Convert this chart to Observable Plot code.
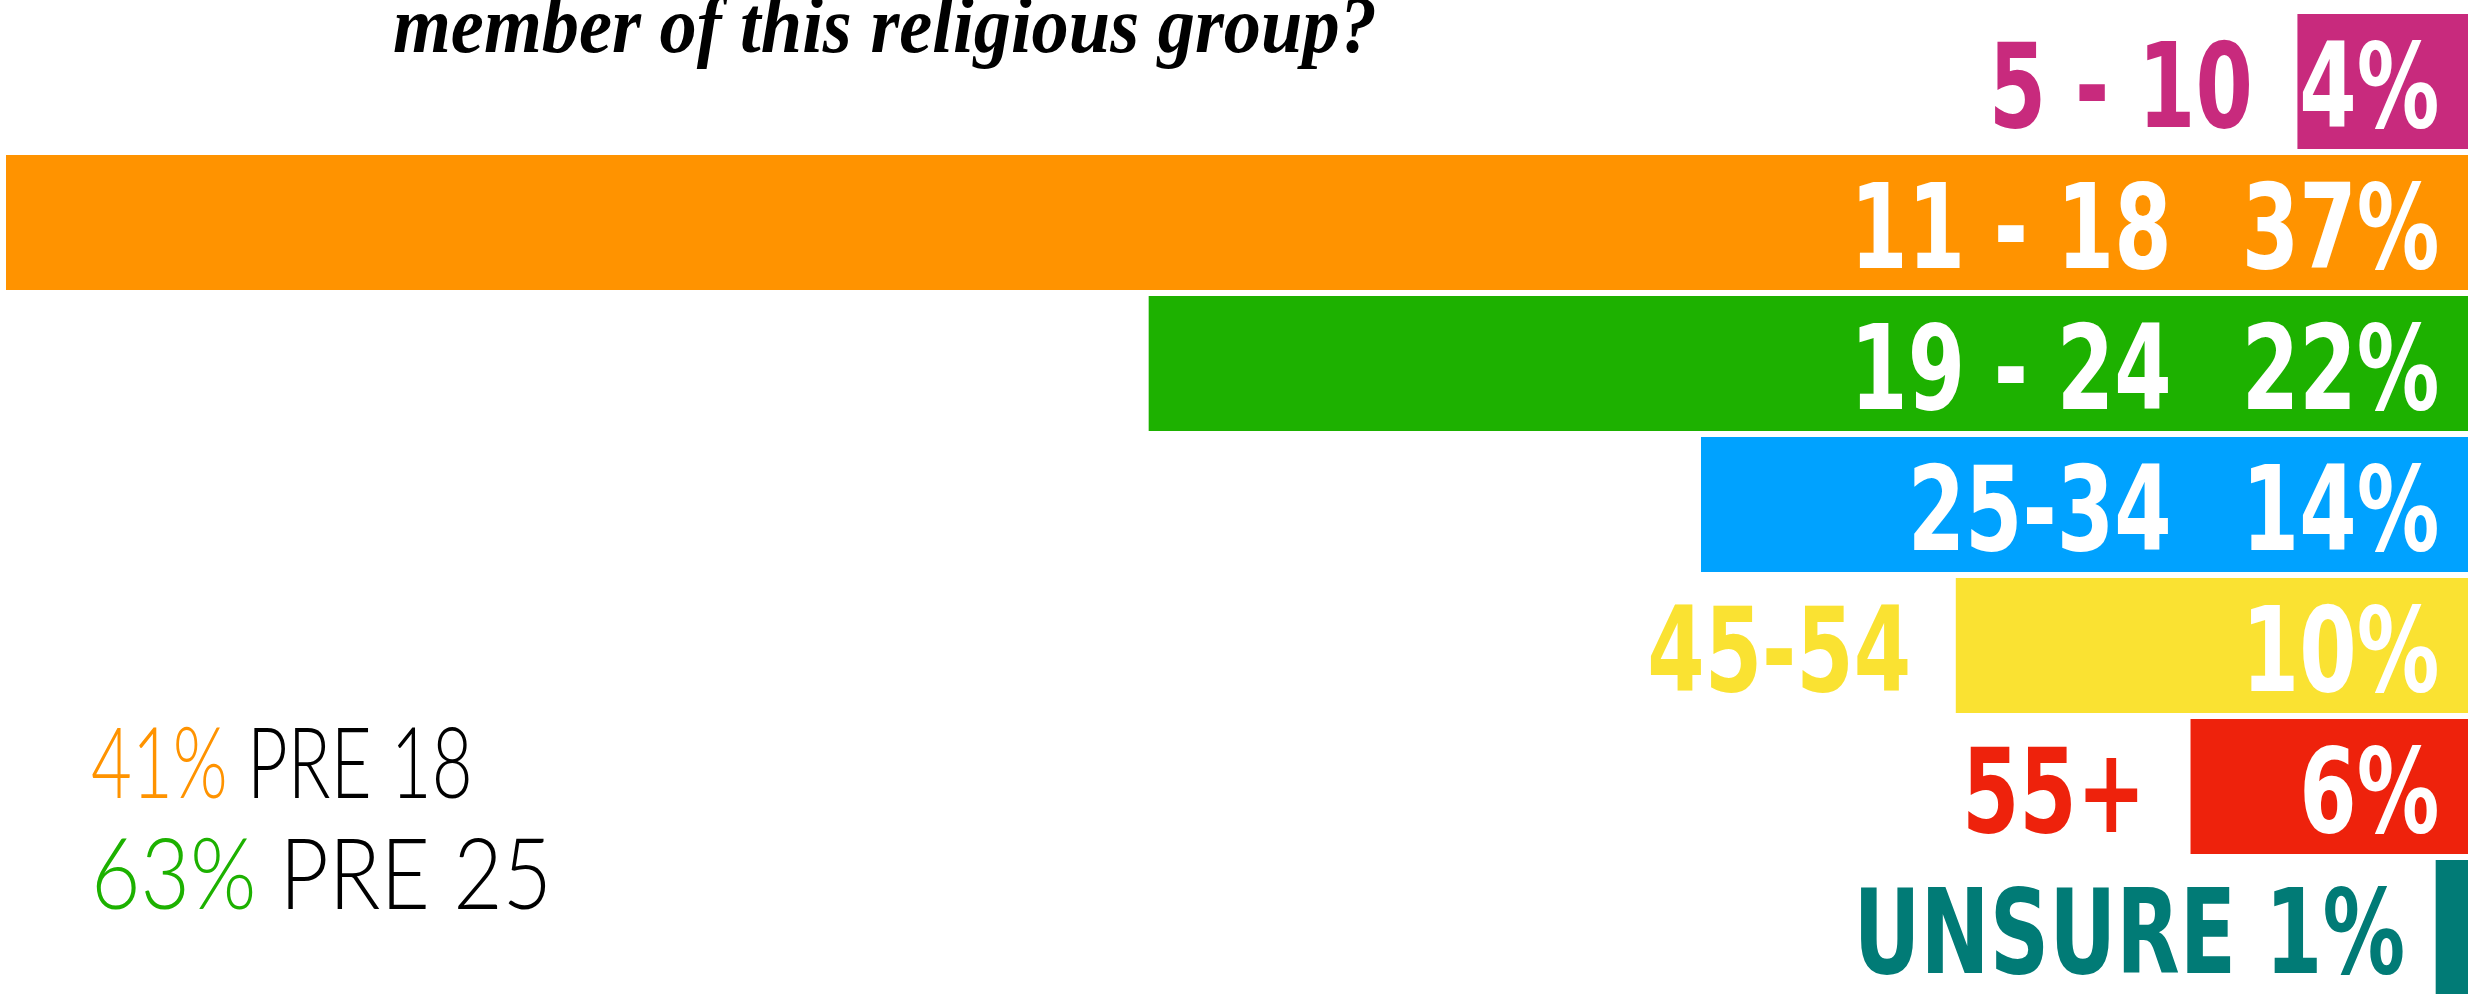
<!DOCTYPE html>
<html>
<head>
<meta charset="utf-8">
<script src="https://cdn.jsdelivr.net/npm/d3@7"></script>
<script src="https://cdn.jsdelivr.net/npm/@observablehq/plot@0.6"></script>
<style>
  html, body { margin: 0; padding: 0; background: #fff; }
  #wrap { position: relative; width: 2468px; height: 994px; overflow: hidden; background: #fff; }
  #chart { position: absolute; left: 0; top: 0; }
  #title {
    position: absolute; left: 393px; top: -15px; white-space: nowrap;
    font-family: "Liberation Serif", "DejaVu Serif", serif; font-style: italic; font-weight: 700;
    font-size: 80px; line-height: 80px; color: #000;
    transform-origin: 0 0; transform: scaleX(0.93);
  }
  .note {
    position: absolute; left: 91px; white-space: nowrap;
    font-family: "Lato", "Open Sans", sans-serif; font-weight: 300;
    font-size: 98px; line-height: 111px; color: #000;
    transform-origin: 0 0;
  }
</style>
</head>
<body>
<div id="wrap">
  <div id="chart"></div>
  <div id="title"></div>
  <div id="notes"></div>
</div>
<script>
// ---- data ----
const categories = ["5 - 10", "11 - 18", "19 - 24", "25-34", "45-54", "55+", "UNSURE"];
const shares = [4, 37, 22, 14, 10, 6, 1];
const palette = ["#C82A7D", "#FF9300", "#1DB100", "#00A2FF", "#FAE232", "#EE220C", "#017B76"];
const summaryValues = ["41%", "63%"];
const summaryLabels = ["PRE 18", "PRE 25"];
const summaryColors = ["#FF9300", "#1DB100"];
const titleText = "member of this religious group?";

// ---- derived table ----
const rows = categories.map((c, i) => ({cat: c, value: shares[i], pct: shares[i] + "%"}));
const inside = rows.filter(d => d.value >= 14);
const pctInside = rows.filter(d => d.value >= 4 && d.value < 14);
const outside = rows.filter(d => d.value < 4);

const labelFont = {
  fontFamily: "'DejaVu Sans', sans-serif",
  fontWeight: 700,
  fontSize: 118,
  dy: 7
};
const gap = "\u00A0\u2002";

const chart = Plot.plot({
  width: 2468,
  height: 994,
  marginTop: 11,
  marginBottom: -4,
  marginLeft: 6,
  marginRight: 0,
  x: {type: "pow", exponent: 1.2, domain: [0, 37], reverse: true, axis: null},
  y: {type: "band", domain: categories, paddingInner: 0.04, paddingOuter: 0, axis: null},
  color: {domain: categories, range: palette},
  style: {background: "white"},
  marks: [
    Plot.barX(rows, {x: "value", y: "cat", fill: "cat"}),
    Plot.text(inside, {y: "cat", text: d => d.cat + gap + d.pct, frameAnchor: "right", textAnchor: "end", dx: -29, fill: "white", ...labelFont}),
    Plot.text(pctInside, {y: "cat", text: "pct", frameAnchor: "right", textAnchor: "end", dx: -29, fill: "white", ...labelFont}),
    Plot.text(pctInside, {x: "value", y: "cat", text: "cat", textAnchor: "end", dx: -45, fill: "cat", ...labelFont}),
    Plot.text(outside, {x: "value", y: "cat", text: d => d.cat + " " + d.pct, textAnchor: "end", dx: -31, fill: "cat", ...labelFont})
  ]
});

// condense the stencil-like labels horizontally (no narrow font installed)
d3.select(chart).selectAll("g[aria-label='text'] text").each(function() {
  const t = this.getAttribute("transform");
  if (t) {
    this.setAttribute("transform", t + " scale(0.7,1)");
  } else {
    const x = +this.getAttribute("x") || 0, y = +this.getAttribute("y") || 0;
    this.removeAttribute("x"); this.removeAttribute("y");
    this.setAttribute("transform", `translate(${x},${y}) scale(0.7,1)`);
  }
});
document.getElementById("chart").appendChild(chart);

document.getElementById("title").textContent = titleText;

const noteScale = [0.72, 0.87];
const notes = document.getElementById("notes");
summaryValues.forEach((v, i) => {
  const div = document.createElement("div");
  div.className = "note";
  div.style.top = (705 + i * 111) + "px";
  div.style.transform = `scaleX(${noteScale[i]})`;
  const s = document.createElement("span");
  s.style.color = summaryColors[i];
  s.textContent = v;
  div.appendChild(s);
  div.appendChild(document.createTextNode(" " + summaryLabels[i]));
  notes.appendChild(div);
});
</script>
</body>
</html>
